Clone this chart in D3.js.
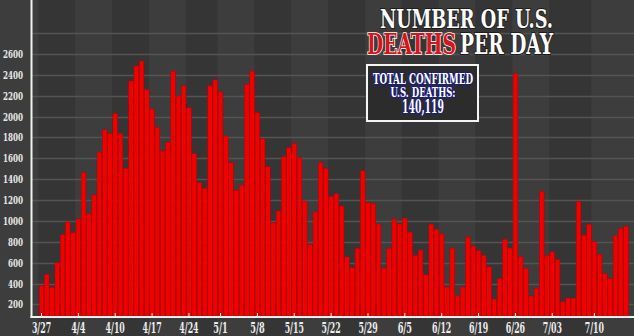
<!DOCTYPE html>
<html>
<head>
<meta charset="utf-8">
<script src="https://cdn.jsdelivr.net/npm/d3@7"></script>
<style>
  body { margin: 0; background: #3a3a3a; }
  svg { display: block; }
  .num { font-family: "DejaVu Serif Condensed", "DejaVu Serif", serif; font-weight: bold; }
  .head { font-family: "DejaVu Serif Condensed", "DejaVu Serif", serif; font-weight: bold; }
</style>
</head>
<body>
<div id="chart"></div>
<script>
// deaths per day, first bar is 3/27
const deaths = [
  380, 490, 365, 600, 870, 990, 890, 1020, 1465, 1070,
  1250, 1660, 1875, 1840, 2030, 1840, 1505, 2342, 2485, 2533,
  2261, 2073, 1898, 1671, 1753, 2437, 2197, 2298, 2085, 1646,
  1371, 1315, 2298, 2352, 2236, 1814, 1560, 1293, 1344, 2311,
  2437, 2037, 1789, 1520, 985, 1096, 1619, 1703, 1745, 1605,
  1191, 774, 1087, 1560, 1506, 1236, 1261, 1143, 656, 553,
  739, 1481, 1179, 1167, 971, 548, 739, 1019, 971, 1028,
  894, 672, 723, 486, 970, 922, 876, 368, 741, 283,
  368, 845, 760, 718, 672, 560, 252, 450, 826, 741,
  2415, 660, 546, 281, 355, 1285, 671, 706, 633, 226,
  261, 261, 1189, 865, 970, 805, 680, 497, 448, 864,
  930, 951
];
const tickDays = [0, 7, 14, 21, 28, 34, 41, 48, 55, 62, 69, 76, 83, 90, 97, 105];
const tickLabels = ["3/27", "4/4", "4/10", "4/17", "4/24", "5/1", "5/8", "5/15",
                    "5/22", "5/29", "6/5", "6/12", "6/19", "6/26", "7/03", "7/10"];
const yTicks = d3.range(200, 2601, 200);
const titleTop = "NUMBER OF U.S.";
const titleRed = "DEATHS";
const titleRest = "PER DAY";
const boxLines = ["TOTAL CONFIRMED", "U.S. DEATHS:", "140,119"];

const W = 634, H = 336;
const axisX = 31.5, baseY = 317;

const svg = d3.select("#chart").append("svg")
    .attr("width", W)
    .attr("height", H);

const x = d3.scaleLinear()
    .domain([0, deaths.length - 1])
    .range([41.5, 626]);
const y = d3.scaleLinear()
    .domain([80, 2600])
    .range([baseY, 54]);

// background bands between week ticks
const edges = [0].concat(tickDays.map(d => x(d) - 3), [W]);
svg.selectAll("rect.band")
  .data(d3.range(edges.length - 1))
  .join("rect")
    .attr("class", "band")
    .attr("x", i => edges[i])
    .attr("y", 0)
    .attr("width", i => edges[i + 1] - edges[i])
    .attr("height", H)
    .attr("fill", i => i % 2 ? "#353535" : "#3d3d3d");

// grid lines
svg.append("g")
  .selectAll("line")
  .data(yTicks.concat([2800]))
  .join("line")
    .attr("x1", axisX)
    .attr("x2", W)
    .attr("y1", d => Math.round(y(d)) + 0.5)
    .attr("y2", d => Math.round(y(d)) + 0.5)
    .attr("stroke", "#545454")
    .attr("stroke-width", 1.5);

// bars
svg.append("g")
  .selectAll("rect")
  .data(deaths)
  .join("rect")
    .attr("x", (d, i) => x(i) - 2.3)
    .attr("width", 4.6)
    .attr("y", d => y(d))
    .attr("height", d => baseY - y(d))
    .attr("fill", "#f20000")
    .attr("stroke", "#b00000")
    .attr("stroke-width", 0.5);

// axes
svg.append("line")
    .attr("x1", axisX).attr("x2", axisX)
    .attr("y1", 0).attr("y2", baseY + 1)
    .attr("stroke", "#f2f2f2").attr("stroke-width", 2);
svg.append("line")
    .attr("x1", axisX - 1).attr("x2", W)
    .attr("y1", baseY).attr("y2", baseY)
    .attr("stroke", "#f2f2f2").attr("stroke-width", 2);

svg.append("g")
  .selectAll("text")
  .data(yTicks)
  .join("text")
    .attr("class", "num")
    .attr("x", 23)
    .attr("y", d => y(d))
    .attr("dy", "0.36em")
    .attr("text-anchor", "end")
    .attr("font-size", 11)
    .attr("textLength", d => String(d).length * 5)
    .attr("lengthAdjust", "spacingAndGlyphs")
    .attr("fill", "#e8e8e8")
    .text(d => d);

const xt = svg.append("g")
  .selectAll("g")
  .data(tickDays)
  .join("g")
    .attr("transform", d => `translate(${x(d)},0)`);
xt.append("line")
    .attr("y1", baseY - 4).attr("y2", baseY)
    .attr("stroke", "#f2f2f2").attr("stroke-width", 1);
xt.append("text")
    .attr("class", "num")
    .attr("y", 333)
    .attr("text-anchor", "middle")
    .attr("font-size", 15)
    .attr("textLength", (d, i) => tickLabels[i].length * 4.8)
    .attr("lengthAdjust", "spacingAndGlyphs")
    .attr("fill", "#ededed")
    .text((d, i) => tickLabels[i]);

// title
svg.append("text")
    .attr("class", "head")
    .attr("x", 380).attr("y", 28)
    .attr("font-size", 26)
    .attr("textLength", 173)
    .attr("lengthAdjust", "spacingAndGlyphs")
    .attr("fill", "#ffffff")
    .attr("stroke", "#1e1e1e").attr("stroke-width", 2)
    .attr("paint-order", "stroke")
    .text(titleTop);
svg.append("text")
    .attr("class", "head")
    .attr("x", 367).attr("y", 54)
    .attr("font-size", 27)
    .attr("textLength", 89)
    .attr("lengthAdjust", "spacingAndGlyphs")
    .attr("fill", "#d8141c")
    .attr("stroke", "#ffffff").attr("stroke-width", 1.6)
    .attr("paint-order", "stroke")
    .text(titleRed);
svg.append("text")
    .attr("class", "head")
    .attr("x", 460).attr("y", 54)
    .attr("font-size", 27)
    .attr("textLength", 93)
    .attr("lengthAdjust", "spacingAndGlyphs")
    .attr("fill", "#ffffff")
    .attr("stroke", "#1e1e1e").attr("stroke-width", 2)
    .attr("paint-order", "stroke")
    .text(titleRest);

// total box
svg.append("rect")
    .attr("x", 367).attr("y", 65)
    .attr("width", 111).attr("height", 56)
    .attr("fill", "#2c2c2c")
    .attr("stroke", "#f4f4f4").attr("stroke-width", 2);
const boxY = [84, 97, 113], boxSize = [14, 13, 18], boxLen = [100, 65, 42];
boxLines.forEach((t, i) => {
  svg.append("text")
      .attr("class", "head")
      .attr("x", 423).attr("y", boxY[i])
      .attr("text-anchor", "middle")
      .attr("font-size", boxSize[i])
      .attr("textLength", boxLen[i])
      .attr("lengthAdjust", "spacingAndGlyphs")
      .attr("fill", "#ffffff")
      .attr("stroke", "#1d1f7a").attr("stroke-width", 2.5)
      .attr("paint-order", "stroke")
      .text(t);
});
</script>
</body>
</html>
